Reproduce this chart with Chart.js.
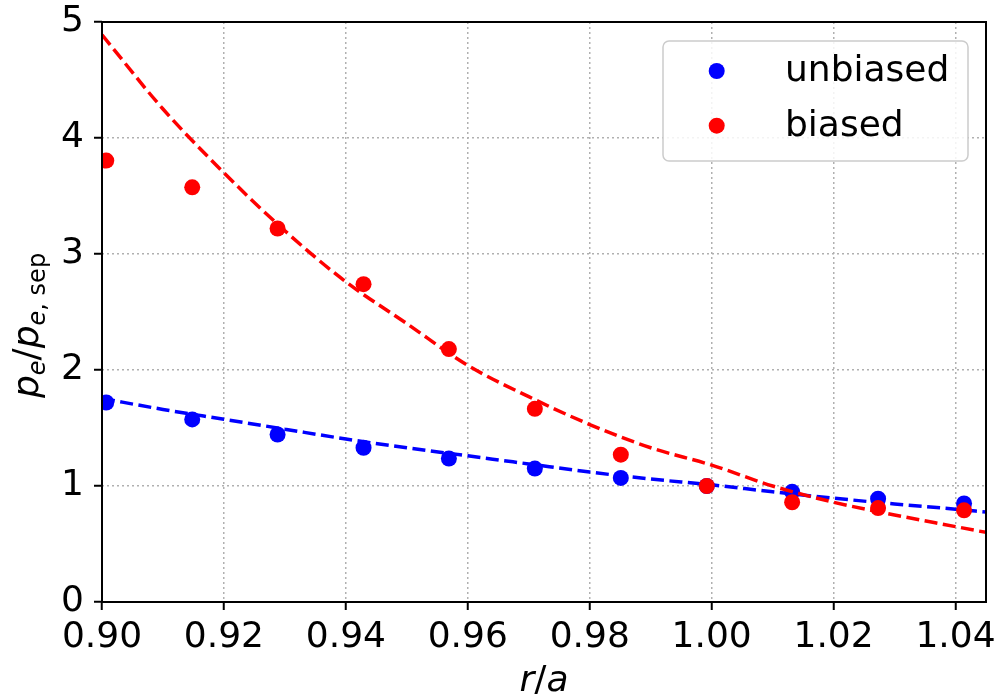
<!DOCTYPE html>
<html><head><meta charset="utf-8">
<script src="https://cdn.jsdelivr.net/npm/chart.js@4/dist/chart.umd.min.js"></script>
<style>html,body{margin:0;padding:0;background:#fff;overflow:hidden}</style>
</head><body>
<canvas id="c" width="999" height="694"></canvas>
<script>
// ---- data ----
const pointX = [0.9007, 0.9148, 0.9288, 0.9429, 0.9569, 0.9710, 0.9851, 0.9992, 1.0132, 1.0273, 1.0414];
const unbiasedValues = [1.72, 1.574, 1.444, 1.33, 1.237, 1.15, 1.07, 1.00, 0.95, 0.89, 0.85];
const biasedValues = [3.805, 3.575, 3.22, 2.74, 2.18, 1.665, 1.27, 1.00, 0.86, 0.81, 0.79];
const fitX = [0.90, 0.91, 0.92, 0.93, 0.94, 0.95, 0.96, 0.97, 0.98, 0.99, 1.00, 1.01, 1.02, 1.03, 1.04, 1.045];
const unbiasedFit = [1.755, 1.66, 1.575, 1.49, 1.405, 1.33, 1.26, 1.19, 1.12, 1.06, 1.01, 0.95, 0.895, 0.845, 0.80, 0.775];
const biasedFit = [4.89, 4.25, 3.70, 3.20, 2.76, 2.40, 2.04, 1.77, 1.53, 1.33, 1.18, 1.00, 0.86, 0.75, 0.65, 0.60];
const xTicks = [0.90, 0.92, 0.94, 0.96, 0.98, 1.00, 1.02, 1.04];
const yTicks = [0, 1, 2, 3, 4, 5];
const seriesNames = ['unbiased', 'biased'];
const seriesColors = ['#0000ff', '#ff0000'];

const FONT = 'DejaVu Sans';
const pts = (xs, ys) => xs.map((x, i) => ({x, y: ys[i]}));

const framePlugin = {
  id: 'frame',
  afterDatasetsDraw(chart) {
    const {ctx, chartArea: a} = chart;
    ctx.save();
    ctx.strokeStyle = '#000';
    ctx.lineWidth = 2;
    ctx.strokeRect(a.left, a.top, a.right - a.left, a.bottom - a.top);
    ctx.restore();
  }
};

const legendPlugin = {
  id: 'mplLegend',
  afterDraw(chart) {
    const {ctx} = chart;
    ctx.save();
    const x0 = 663, y0 = 41, w = 305, h = 120, r = 6;
    ctx.beginPath();
    ctx.roundRect(x0, y0, w, h, r);
    ctx.fillStyle = 'rgba(255,255,255,0.85)';
    ctx.fill();
    ctx.strokeStyle = '#cccccc';
    ctx.lineWidth = 1.5;
    ctx.stroke();
    ctx.font = '36px ' + FONT;
    ctx.textBaseline = 'middle';
    ctx.textAlign = 'left';
    seriesNames.forEach((name, i) => {
      const cy = 71 + i * 54.7;
      ctx.beginPath();
      ctx.arc(716.7, cy, 8, 0, Math.PI * 2);
      ctx.fillStyle = seriesColors[i];
      ctx.fill();
      ctx.fillStyle = '#000';
      ctx.fillText(name, 785, cy + 1);
    });
    ctx.restore();
  }
};

const axisTitlePlugin = {
  id: 'axisTitles',
  afterDraw(chart) {
    const {ctx, chartArea: a} = chart;
    ctx.save();
    ctx.fillStyle = '#000';
    ctx.textBaseline = 'alphabetic';
    // x title: r/a
    const parts = [['italic 36px ' + FONT, 'r'], ['36px ' + FONT, '/'], ['italic 36px ' + FONT, 'a']];
    let total = 0;
    parts.forEach(p => { ctx.font = p[0]; total += ctx.measureText(p[1]).width; });
    let x = (a.left + a.right) / 2 - total / 2;
    parts.forEach(p => { ctx.font = p[0]; ctx.fillText(p[1], x, 691); x += ctx.measureText(p[1]).width; });
    // y title: p_e / p_{e,sep}
    const ys = [
      ['italic 36px ' + FONT, 'p', 0],
      ['italic 24px ' + FONT, 'e', 7],
      ['36px ' + FONT, '/', 0],
      ['italic 36px ' + FONT, 'p', 0],
      ['italic 24px ' + FONT, 'e', 7],
      ['24px ' + FONT, ', ', 7],
      ['24px ' + FONT, 'sep', 7]
    ];
    ctx.translate(38, 398);
    ctx.rotate(-Math.PI / 2);
    let t = 0;
    ys.forEach(p => { ctx.font = p[0]; ctx.fillText(p[1], t, p[2]); t += ctx.measureText(p[1]).width; });
    ctx.restore();
  }
};

new Chart(document.getElementById('c'), {
  type: 'scatter',
  data: {
    datasets: [
      {label: 'biased fit', data: pts(fitX, biasedFit), showLine: true, pointRadius: 0,
       borderColor: seriesColors[1], borderWidth: 3.5, borderDash: [13, 5.5], cubicInterpolationMode: 'monotone', order: 0, clip: 0},
      {label: seriesNames[1], data: pts(pointX, biasedValues), pointRadius: 8, pointBorderWidth: 0,
       backgroundColor: seriesColors[1], borderColor: seriesColors[1], order: 1, clip: 0},
      {label: 'unbiased fit', data: pts(fitX, unbiasedFit), showLine: true, pointRadius: 0,
       borderColor: seriesColors[0], borderWidth: 3.5, borderDash: [13, 5.5], cubicInterpolationMode: 'monotone', order: 2, clip: 0},
      {label: seriesNames[0], data: pts(pointX, unbiasedValues), pointRadius: 8, pointBorderWidth: 0,
       backgroundColor: seriesColors[0], borderColor: seriesColors[0], order: 3, clip: 0}
    ]
  },
  options: {
    responsive: false,
    animation: false,
    devicePixelRatio: 1,
    layout: {padding: {top: 22, right: 13, left: 0, bottom: 0}},
    plugins: {legend: {display: false}, tooltip: {enabled: false}},
    elements: {point: {hoverRadius: 8}},
    scales: {
      x: {
        type: 'linear', min: 0.90, max: 1.045,
        afterFit: s => { s.height = 92; s.paddingLeft = 0; s.paddingRight = 0; },
        afterBuildTicks: s => { s.ticks = xTicks.map(v => ({value: v})); },
        ticks: {font: {family: FONT, size: 36}, color: '#000', padding: 6, maxRotation: 0, autoSkip: false,
                callback: v => v.toFixed(2)},
        grid: {color: '#b0b0b0', lineWidth: 1.5, tickColor: '#000', tickWidth: 2, tickLength: 8, tickBorderDash: []},
        border: {display: false, dash: [2, 3]}
      },
      y: {
        type: 'linear', min: 0, max: 5,
        afterFit: s => { s.width = 102; s.paddingTop = 0; s.paddingBottom = 0; },
        afterBuildTicks: s => { s.ticks = yTicks.map(v => ({value: v})); },
        ticks: {font: {family: FONT, size: 36}, color: '#000', padding: 10, autoSkip: false,
                callback: v => String(v)},
        grid: {color: '#b0b0b0', lineWidth: 1.5, tickColor: '#000', tickWidth: 2, tickLength: 8, tickBorderDash: []},
        border: {display: false, dash: [2, 3]}
      }
    }
  },
  plugins: [framePlugin, legendPlugin, axisTitlePlugin]
});
</script>
</body></html>
